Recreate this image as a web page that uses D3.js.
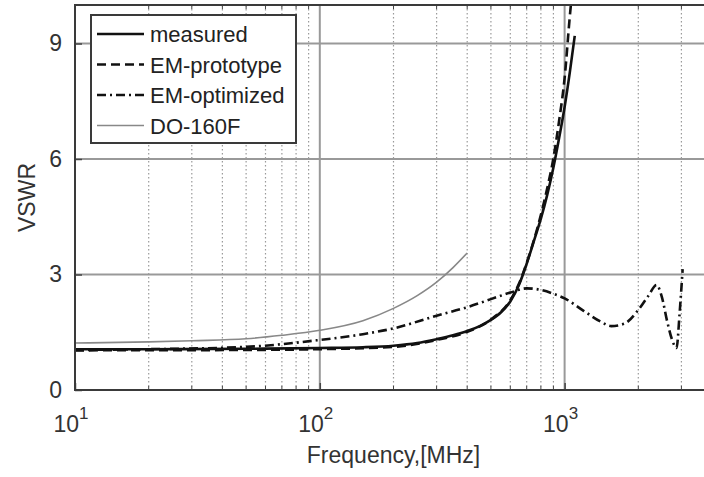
<!DOCTYPE html>
<html>
<head>
<meta charset="utf-8">
<script src="https://cdn.jsdelivr.net/npm/d3@7"></script>
<style>
  body { margin: 0; background: #fff; }
  svg { display: block; font-family: "Liberation Sans", Arial, sans-serif; }
</style>
</head>
<body>
<svg id="chart" width="704" height="477"></svg>
<script>
// values: [frequency MHz, VSWR]
const measured = [
  [10, 1.06], [20, 1.06], [50, 1.07], [100, 1.09], [150, 1.11], [200, 1.15],
  [250, 1.22], [300, 1.32], [350, 1.42], [400, 1.53], [450, 1.66], [500, 1.82],
  [550, 2.02], [600, 2.3], [650, 2.72], [700, 3.28], [750, 3.88], [800, 4.45],
  [850, 5.08], [900, 5.78], [950, 6.55], [1000, 7.35], [1050, 8.25], [1100, 9.2]
];
const emPrototype = [
  [10, 1.03], [50, 1.04], [100, 1.06], [200, 1.12], [300, 1.3], [400, 1.51],
  [500, 1.83], [600, 2.33], [650, 2.75], [700, 3.3], [750, 3.9], [800, 4.55],
  [850, 5.25], [900, 6.02], [950, 7.0], [1000, 8.1], [1050, 9.7], [1080, 10.5]
];
const emOptimized = [
  [10, 1.04], [20, 1.06], [50, 1.12], [100, 1.3], [150, 1.45], [200, 1.6],
  [300, 1.93], [400, 2.15], [500, 2.36], [600, 2.53], [700, 2.64], [800, 2.6],
  [900, 2.5], [1000, 2.38], [1200, 2.05], [1400, 1.78], [1550, 1.66], [1750, 1.72],
  [2000, 2.08], [2200, 2.45], [2375, 2.73], [2500, 2.4], [2620, 1.8], [2750, 1.3],
  [2865, 1.09], [2950, 2.0], [3035, 3.14]
];
const do160f = [
  [10, 1.22], [20, 1.25], [30, 1.28], [50, 1.33], [70, 1.42], [100, 1.55],
  [150, 1.8], [200, 2.12], [250, 2.45], [300, 2.8], [350, 3.18], [400, 3.56]
];
const xTicks = [10, 100, 1000];
const xTickExp = ['1', '2', '3'];
const yTicks = [0, 3, 6, 9];
const legendNames = ['measured', 'EM-prototype', 'EM-optimized', 'DO-160F'];

const svg = d3.select('#chart');
const mLeft = 75, mRight = 712, mTop = 5, mBottom = 390;

const x = d3.scaleLog().domain([10, 4000]).range([mLeft, mRight]);
const y = d3.scaleLinear().domain([0, 10]).range([mBottom, mTop]);

// minor vertical grid (dotted)
const minor = [];
[10, 100, 1000].forEach(d => {
  for (let k = 2; k <= 9; k++) {
    if (k * d < 4000) minor.push(k * d);
  }
});
svg.append('g').selectAll('line').data(minor).join('line')
  .attr('x1', d => x(d)).attr('x2', d => x(d))
  .attr('y1', mTop).attr('y2', mBottom)
  .attr('stroke', '#9a9a9a').attr('stroke-width', 1.2)
  .attr('stroke-dasharray', '1.5,2.5');

// major grid
svg.append('g').selectAll('line').data([100, 1000]).join('line')
  .attr('x1', d => x(d)).attr('x2', d => x(d))
  .attr('y1', mTop).attr('y2', mBottom)
  .attr('stroke', '#999').attr('stroke-width', 2);
svg.append('g').selectAll('line').data([3, 6, 9]).join('line')
  .attr('x1', mLeft).attr('x2', mRight)
  .attr('y1', d => y(d)).attr('y2', d => y(d))
  .attr('stroke', '#999').attr('stroke-width', 2);

// curves
svg.append('clipPath').attr('id', 'clip').append('rect')
  .attr('x', mLeft).attr('y', mTop).attr('width', mRight - mLeft).attr('height', mBottom - mTop);
const plot = svg.append('g').attr('clip-path', 'url(#clip)');

const line = d3.line()
  .x(d => x(d[0])).y(d => y(d[1]))
  .curve(d3.curveMonotoneX);

const styles = [
  {data: measured, color: '#111', width: 2.6, dash: null},
  {data: emPrototype, color: '#111', width: 2.6, dash: '9,5'},
  {data: emOptimized, color: '#111', width: 2.6, dash: '9,4,2,4'},
  {data: do160f, color: '#888', width: 1.6, dash: null}
];

plot.selectAll('path').data(styles.slice().reverse()).join('path')
  .attr('d', d => line(d.data))
  .attr('fill', 'none')
  .attr('stroke', d => d.color)
  .attr('stroke-width', d => d.width)
  .attr('stroke-dasharray', d => d.dash);

// axes
const xAxis = svg.append('g')
  .attr('transform', `translate(0,${mBottom})`)
  .call(d3.axisBottom(x).tickValues(xTicks).tickSizeInner(-7).tickSizeOuter(0).tickFormat(() => ''));
xAxis.select('.domain').remove();
xAxis.selectAll('.tick line').attr('stroke', '#444').attr('stroke-width', 1.5);

const xLabels = svg.append('g').selectAll('text').data(xTicks).join('text')
  .attr('x', d => x(d) - 4)
  .attr('y', 432)
  .attr('text-anchor', 'middle')
  .attr('fill', '#333')
  .attr('font-size', 23);
xLabels.append('tspan').text('10');
xLabels.append('tspan').attr('dy', -13).attr('font-size', 17).text((d, i) => xTickExp[i]);

const yAxis = svg.append('g')
  .attr('transform', `translate(${mLeft},0)`)
  .call(d3.axisLeft(y).tickValues(yTicks).tickSizeInner(-7).tickSizeOuter(0).tickPadding(13));
yAxis.select('.domain').remove();
yAxis.selectAll('.tick line').attr('stroke', '#444').attr('stroke-width', 1.5);
yAxis.selectAll('.tick text')
  .attr('font-size', 23).attr('fill', '#333')
  .attr('font-family', '"Liberation Sans", Arial, sans-serif');

// minor ticks on top and bottom
svg.append('g').selectAll('line').data(minor).join('line')
  .attr('x1', d => x(d)).attr('x2', d => x(d))
  .attr('y1', mTop).attr('y2', mTop + 4)
  .attr('stroke', '#444').attr('stroke-width', 1);
svg.append('g').selectAll('line').data(minor).join('line')
  .attr('x1', d => x(d)).attr('x2', d => x(d))
  .attr('y1', mBottom).attr('y2', mBottom - 4)
  .attr('stroke', '#444').attr('stroke-width', 1);

// frame
svg.append('rect')
  .attr('x', mLeft).attr('y', mTop).attr('width', mRight - mLeft).attr('height', mBottom - mTop)
  .attr('fill', 'none').attr('stroke', '#3a3a3a').attr('stroke-width', 2);

// axis titles
svg.append('text')
  .attr('x', (mLeft + mRight) / 2).attr('y', 463)
  .attr('text-anchor', 'middle').attr('font-size', 23).attr('fill', '#333')
  .text('Frequency,[MHz]');
svg.append('text')
  .attr('transform', `translate(35,${(mTop + mBottom) / 2}) rotate(-90)`)
  .attr('text-anchor', 'middle').attr('font-size', 23).attr('fill', '#333')
  .text('VSWR');

// legend
const legend = svg.append('g');
legend.append('rect')
  .attr('x', 91).attr('y', 15).attr('width', 205).attr('height', 128)
  .attr('fill', '#fff').attr('stroke', '#3a3a3a').attr('stroke-width', 2);
const rows = legend.selectAll('g.row').data(styles).join('g')
  .attr('class', 'row')
  .attr('transform', (d, i) => `translate(0,${34 + i * 30.5})`);
rows.append('line')
  .attr('x1', 97).attr('x2', 144).attr('y1', 0).attr('y2', 0)
  .attr('stroke', d => d.color)
  .attr('stroke-width', d => d.width)
  .attr('stroke-dasharray', d => d.dash);
rows.append('text')
  .attr('x', 150).attr('y', 8)
  .attr('font-size', 22).attr('fill', '#222')
  .text((d, i) => legendNames[i]);
</script>
</body>
</html>
